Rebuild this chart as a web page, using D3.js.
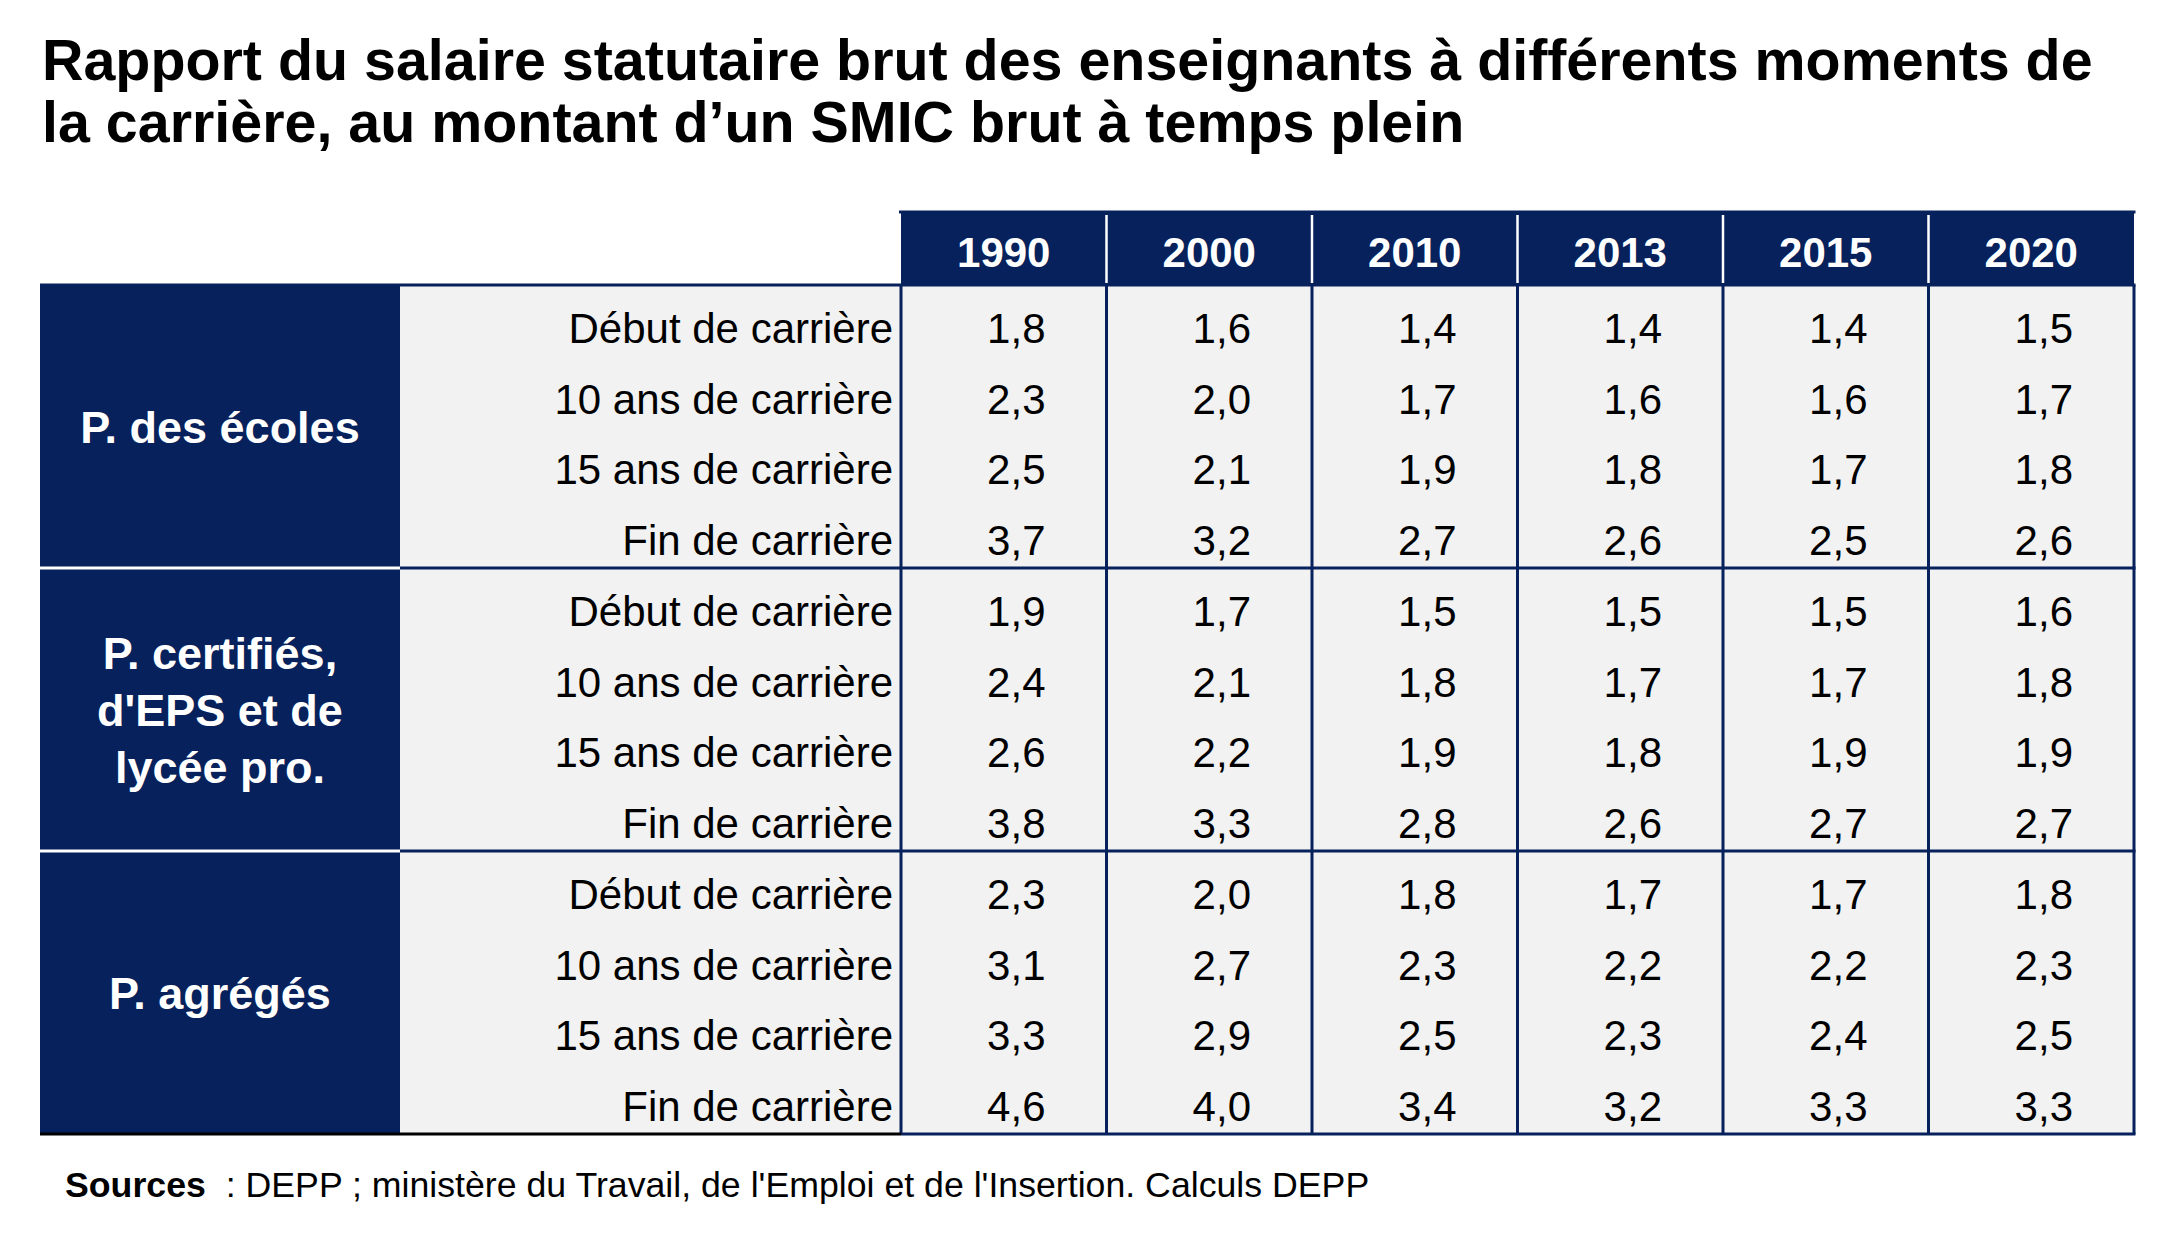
<!DOCTYPE html>
<html>
<head>
<meta charset="utf-8">
<script src="https://cdn.jsdelivr.net/npm/d3@7"></script>
<style>
  body { margin: 0; background: #fff; }
  text { font-family: "Liberation Sans", Arial, sans-serif; }
</style>
</head>
<body>
<div id="table"></div>
<script>
var years = ["1990", "2000", "2010", "2013", "2015", "2020"];
var stages = ["Début de carrière", "10 ans de carrière", "15 ans de carrière", "Fin de carrière"];
var groupLabels = [["P. des écoles"], ["P. certifiés,", "d'EPS et de", "lycée pro."], ["P. agrégés"]];

var ecoles = [
    [1.8, 1.6, 1.4, 1.4, 1.4, 1.5],
    [2.3, 2.0, 1.7, 1.6, 1.6, 1.7],
    [2.5, 2.1, 1.9, 1.8, 1.7, 1.8],
    [3.7, 3.2, 2.7, 2.6, 2.5, 2.6]
];
var certifies = [
    [1.9, 1.7, 1.5, 1.5, 1.5, 1.6],
    [2.4, 2.1, 1.8, 1.7, 1.7, 1.8],
    [2.6, 2.2, 1.9, 1.8, 1.9, 1.9],
    [3.8, 3.3, 2.8, 2.6, 2.7, 2.7]
];
var agreges = [
    [2.3, 2.0, 1.8, 1.7, 1.7, 1.8],
    [3.1, 2.7, 2.3, 2.2, 2.2, 2.3],
    [3.3, 2.9, 2.5, 2.3, 2.4, 2.5],
    [4.6, 4.0, 3.4, 3.2, 3.3, 3.3]
];

var titleLines = [
    "Rapport du salaire statutaire brut des enseignants à différents moments de",
    "la carrière, au montant d\u2019un SMIC brut à temps plein"
];

var navy = "#06215b",
    grey = "#f2f2f2";

var width = 2178,
    height = 1248;

// table geometry
var groupLeft = 40, labelLeft = 400, dataLeft = 901, dataRight = 2134,
    headTop = 212, bodyTop = 285, bodyBottom = 1134;

var fr = d3.formatLocale({ decimal: ",", thousands: " ", grouping: [3], currency: ["", " €"] });
var fmt = fr.format(".1f");

var groups = [ecoles, certifies, agreges];

// flatten to one record per row
var rows = [];
groups.forEach(function(g, gi) {
    g.forEach(function(vals, si) {
        rows.push({ group: gi, stage: stages[si], values: vals });
    });
});

var x = d3.scaleBand()
    .domain(years)
    .range([dataLeft, dataRight]);

var y = d3.scaleBand()
    .domain(d3.range(rows.length))
    .range([bodyTop, bodyBottom]);

var gy = d3.scaleBand()
    .domain(d3.range(groups.length))
    .range([bodyTop, bodyBottom]);

var svg = d3.select("#table").append("svg")
    .attr("width", width)
    .attr("height", height);

// title
svg.append("g")
    .selectAll("text")
    .data(titleLines)
    .enter()
    .append("text")
    .attr("x", 42)
    .attr("y", function(d, i) { return 80 + i * 62; })
    .style("font-size", "57.4px")
    .style("font-weight", "bold")
    .text(function(d) { return d; });

// header band
svg.append("rect")
    .attr("x", dataLeft)
    .attr("y", headTop)
    .attr("width", dataRight - dataLeft)
    .attr("height", bodyTop - headTop)
    .attr("fill", navy);

svg.append("g")
    .selectAll("line")
    .data(years.slice(1))
    .enter()
    .append("line")
    .attr("x1", function(d) { return x(d); })
    .attr("x2", function(d) { return x(d); })
    .attr("y1", headTop + 3)
    .attr("y2", bodyTop - 2)
    .attr("stroke", "#fff")
    .attr("stroke-width", 2.5);

svg.append("g")
    .selectAll("text")
    .data(years)
    .enter()
    .append("text")
    .attr("x", function(d) { return x(d) + x.bandwidth() / 2; })
    .attr("y", 267)
    .attr("text-anchor", "middle")
    .attr("fill", "#fff")
    .style("font-size", "42px")
    .style("font-weight", "bold")
    .text(function(d) { return d; });

// body fills
svg.append("rect")
    .attr("x", groupLeft)
    .attr("y", bodyTop - 1)
    .attr("width", labelLeft - groupLeft)
    .attr("height", bodyBottom - bodyTop + 1)
    .attr("fill", navy);

svg.append("rect")
    .attr("x", labelLeft)
    .attr("y", bodyTop)
    .attr("width", dataRight - labelLeft)
    .attr("height", bodyBottom - bodyTop)
    .attr("fill", grey);

// group separators: white inside the navy block, navy across labels and data
var seps = d3.range(1, groups.length);
svg.append("g")
    .selectAll("line")
    .data(seps)
    .enter()
    .append("line")
    .attr("x1", groupLeft)
    .attr("x2", labelLeft)
    .attr("y1", function(d) { return gy(d); })
    .attr("y2", function(d) { return gy(d); })
    .attr("stroke", "#fff")
    .attr("stroke-width", 3);

svg.append("g")
    .selectAll("line")
    .data([0].concat(seps))
    .enter()
    .append("line")
    .attr("x1", function(d) { return d == 0 ? groupLeft : labelLeft; })
    .attr("x2", dataRight + 1.5)
    .attr("y1", function(d) { return gy(d); })
    .attr("y2", function(d) { return gy(d); })
    .attr("stroke", navy)
    .attr("stroke-width", 3);

// header top rule
svg.append("line")
    .attr("x1", dataLeft - 2)
    .attr("x2", dataRight + 1.5)
    .attr("y1", headTop)
    .attr("y2", headTop)
    .attr("stroke", navy)
    .attr("stroke-width", 3);

// vertical rules of the data columns
svg.append("g")
    .selectAll("line")
    .data(years.map(function(d) { return x(d); }).concat([dataRight]))
    .enter()
    .append("line")
    .attr("x1", function(d) { return d; })
    .attr("x2", function(d) { return d; })
    .attr("y1", bodyTop)
    .attr("y2", bodyBottom)
    .attr("stroke", navy)
    .attr("stroke-width", 3);

// bottom rule
svg.append("line")
    .attr("x1", groupLeft)
    .attr("x2", dataLeft)
    .attr("y1", bodyBottom)
    .attr("y2", bodyBottom)
    .attr("stroke", "#000")
    .attr("stroke-width", 3);

svg.append("line")
    .attr("x1", dataLeft)
    .attr("x2", dataRight + 1.5)
    .attr("y1", bodyBottom)
    .attr("y2", bodyBottom)
    .attr("stroke", navy)
    .attr("stroke-width", 3);

// group labels
var gl = svg.append("g")
    .selectAll("text")
    .data(groupLabels)
    .enter()
    .append("text")
    .attr("text-anchor", "middle")
    .attr("fill", "#fff")
    .style("font-size", "45px")
    .style("font-weight", "bold");

gl.selectAll("tspan")
    .data(function(d, i) {
        return d.map(function(t, j) {
            return { text: t, y: gy(i) + gy.bandwidth() / 2 + 16 + (j - (d.length - 1) / 2) * 57 };
        });
    })
    .enter()
    .append("tspan")
    .attr("x", (groupLeft + labelLeft) / 2)
    .attr("y", function(d) { return d.y; })
    .text(function(d) { return d.text; });

// row labels
svg.append("g")
    .selectAll("text")
    .data(rows)
    .enter()
    .append("text")
    .attr("x", dataLeft - 8)
    .attr("y", function(d, i) { return y(i) + y.bandwidth() - 13; })
    .attr("text-anchor", "end")
    .style("font-size", "42px")
    .text(function(d) { return d.stage; });

// values
var rowG = svg.append("g")
    .selectAll("g")
    .data(rows)
    .enter()
    .append("g")
    .attr("transform", function(d, i) { return "translate(0," + (y(i) + y.bandwidth() - 13) + ")"; });

rowG.selectAll("text")
    .data(function(d) { return d.values; })
    .enter()
    .append("text")
    .attr("x", function(d, i) { return x(years[i]) + x.bandwidth() - 61; })
    .attr("text-anchor", "end")
    .style("font-size", "42px")
    .text(function(d) { return fmt(d); });

// sources
var src = svg.append("text")
    .attr("x", 65)
    .attr("y", 1197)
    .style("font-size", "35.7px");
src.append("tspan")
    .style("font-weight", "bold")
    .text("Sources");
src.append("tspan")
    .attr("xml:space", "preserve")
    .style("white-space", "pre")
    .text("  : DEPP ; ministère du Travail, de l'Emploi et de l'Insertion. Calculs DEPP");
</script>
</body>
</html>
